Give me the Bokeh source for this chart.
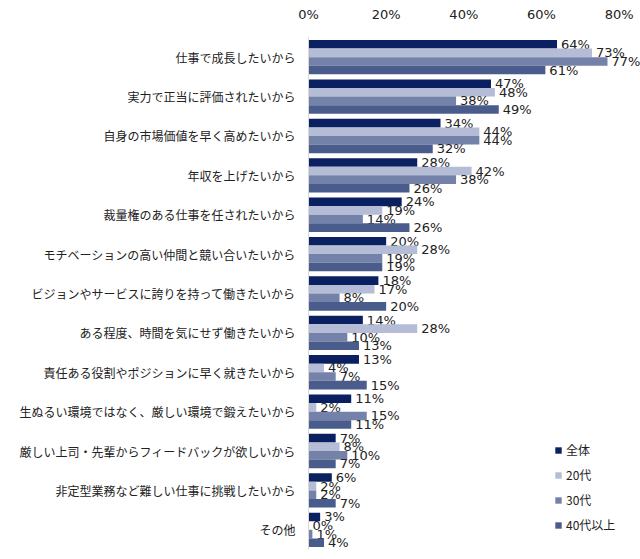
from bokeh.core.properties import value
from bokeh.embed import file_html
from bokeh.models import (ColumnDataSource, FactorRange, FixedTicker, Legend,
                          LegendItem, PrintfTickFormatter, Range1d)
from bokeh.plotting import figure
from bokeh.resources import INLINE
from bokeh.transform import dodge

categories = [
    "仕事で成長したいから",
    "実力で正当に評価されたいから",
    "自身の市場価値を早く高めたいから",
    "年収を上げたいから",
    "裁量権のある仕事を任されたいから",
    "モチベーションの高い仲間と競い合いたいから",
    "ビジョンやサービスに誇りを持って働きたいから",
    "ある程度、時間を気にせず働きたいから",
    "責任ある役割やポジションに早く就きたいから",
    "生ぬるい環境ではなく、厳しい環境で鍛えたいから",
    "厳しい上司・先輩からフィードバックが欲しいから",
    "非定型業務など難しい仕事に挑戦したいから",
    "その他",
]
series = ["全体", "20代", "30代", "40代以上"]
zentai = [64, 47, 34, 28, 24, 20, 18, 14, 13, 11, 7, 6, 3]
age20 = [73, 48, 44, 42, 19, 28, 17, 28, 4, 2, 8, 2, 0]
age30 = [77, 38, 44, 38, 14, 19, 8, 10, 7, 15, 10, 2, 1]
age40 = [61, 49, 32, 26, 26, 19, 20, 13, 15, 11, 7, 7, 4]
ticks = [0, 20, 40, 60, 80]

colors = ["#0b2060", "#b4bcd6", "#7482aa", "#4a5c8c"]
offsets = [0.327, 0.109, -0.109, -0.327]
cols = ["s0", "s1", "s2", "s3"]

data = dict(cat=categories, s0=zentai, s1=age20, s2=age30, s3=age40)
for c in cols:
    data[c + "_lbl"] = [f"{v}%" for v in data[c]]
source = ColumnDataSource(data=data)

p = figure(width=640, height=559,
           y_range=FactorRange(factors=categories[::-1]),
           x_range=Range1d(0, 85.5), x_axis_location="above",
           output_backend="svg", toolbar_location=None,
           min_border_left=308, min_border_right=0,
           min_border_top=37, min_border_bottom=10)
p.outline_line_color = None
p.xgrid.grid_line_color = None
p.ygrid.grid_line_color = None

# top percentage axis
p.xaxis.ticker = FixedTicker(ticks=ticks)
p.xaxis.formatter = PrintfTickFormatter(format="%d%%")
p.xaxis.axis_line_color = None
p.xaxis.major_tick_line_color = None
p.xaxis.minor_tick_line_color = None
p.xaxis.major_tick_out = 0
p.xaxis.major_label_standoff = 16
p.xaxis.major_label_text_font = "DejaVu Sans"
p.xaxis.major_label_text_font_size = "13px"
p.xaxis.major_label_text_color = "#222222"

# category axis
p.yaxis.axis_line_color = "#d9d9d9"
p.yaxis.major_tick_line_color = None
p.yaxis.minor_tick_line_color = None
p.yaxis.major_tick_out = 0
p.yaxis.major_label_standoff = 13
p.yaxis.major_label_text_font = "Noto Sans CJK JP"
p.yaxis.major_label_text_font_size = "12px"
p.yaxis.major_label_text_color = "#222222"

items = []
for c, name, color, off in zip(cols, series, colors, offsets):
    r = p.hbar(y=dodge("cat", off, range=p.y_range), right=c, left=0,
               height=0.218, source=source, fill_color=color,
               line_color=None)
    p.text(x=c, y=dodge("cat", off, range=p.y_range), text=c + "_lbl",
           source=source, x_offset=4, text_baseline="middle",
           text_font=value("DejaVu Sans"), text_font_size="13px",
           text_color="#222222")
    items.append(LegendItem(label=name, renderers=[r]))

legend = Legend(items=items, location=(246, 16), padding=0, margin=0,
                spacing=8, glyph_width=8, glyph_height=8, label_height=14,
                label_standoff=4, border_line_color=None,
                background_fill_alpha=0,
                label_text_font="Noto Sans CJK JP",
                label_text_font_size="12px", label_text_color="#222222")
p.add_layout(legend)

open("out.html", "w").write(file_html(p, INLINE))
